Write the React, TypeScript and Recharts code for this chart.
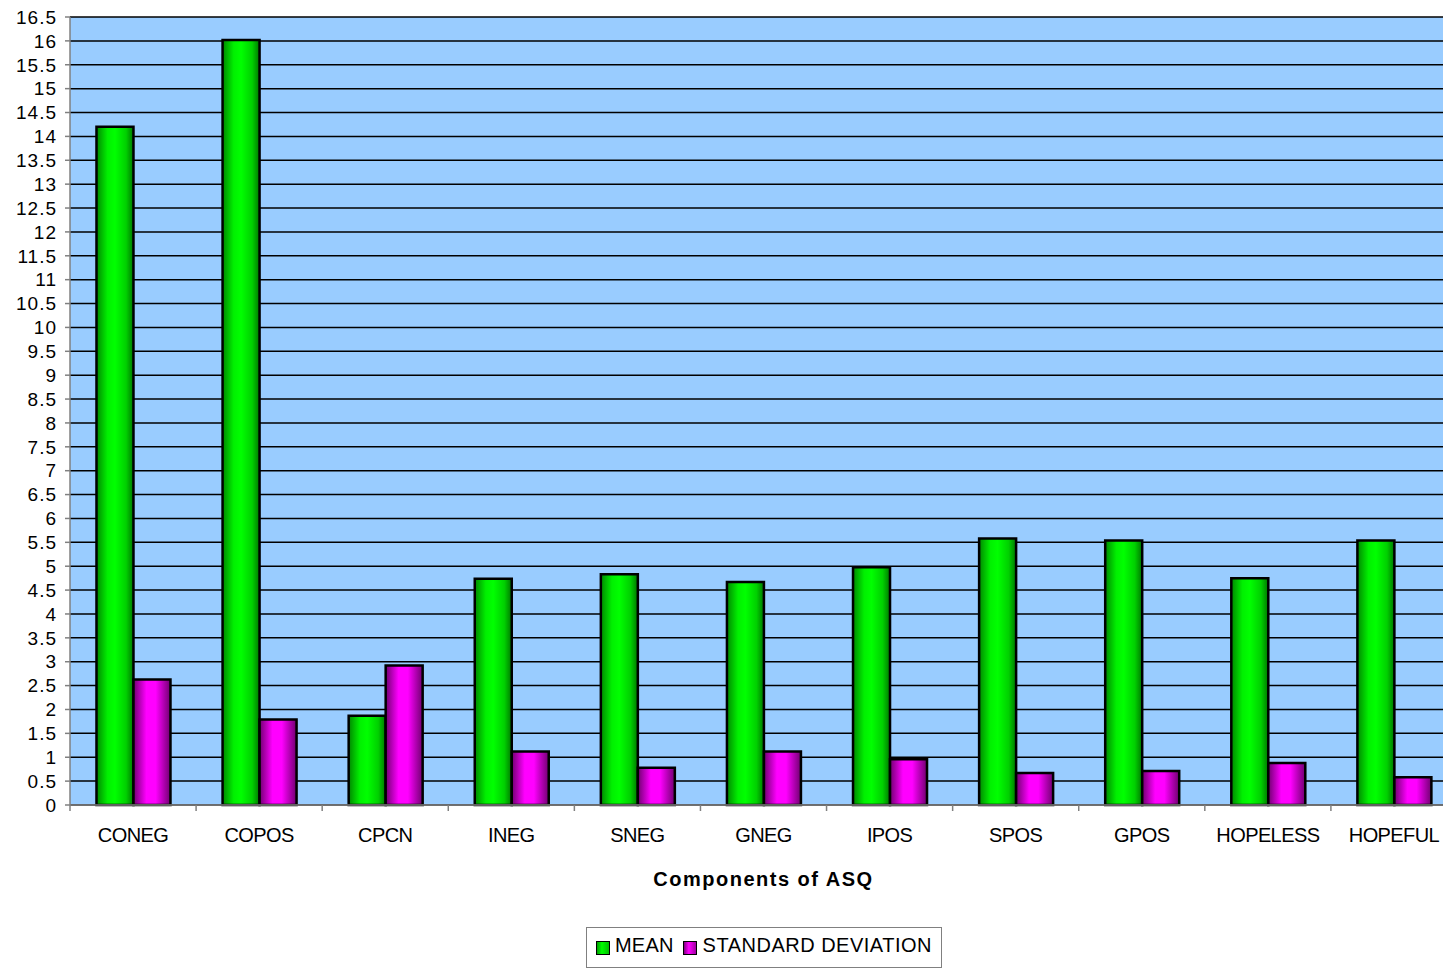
import React from "react";
import { BarChart, Bar, XAxis, YAxis, CartesianGrid, Legend, Label } from "recharts";

const categories = ["CONEG", "COPOS", "CPCN", "INEG", "SNEG", "GNEG", "IPOS", "SPOS", "GPOS", "HOPELESS", "HOPEFUL"];
const meanValues = [14.2, 16.02, 1.87, 4.74, 4.83, 4.67, 4.98, 5.58, 5.54, 4.75, 5.54];
const sdValues = [2.63, 1.79, 2.92, 1.12, 0.78, 1.12, 0.96, 0.67, 0.71, 0.88, 0.58];
const yTicks = Array.from({ length: 34 }, (_, i) => i * 0.5);

const data = categories.map((c, i) => ({ name: c, mean: meanValues[i], sd: sdValues[i] }));

const VW = 1443;
const W = 1457;
const H = 969;
const LEFT = 70;
const BAND = (W - LEFT) / categories.length;
const FONT = "'Liberation Sans', Arial, sans-serif";

const XTick = (props: any) => {
  const { x, y, payload } = props;
  return (
    <g>
      <line x1={x - BAND / 2} y1={y - 8} x2={x - BAND / 2} y2={y - 2} stroke="#808080" strokeWidth={1.5} />
      <text x={x} y={y + 29} textAnchor="middle" fontSize={20} letterSpacing={-0.6} fontFamily={FONT} fill="#000">
        {payload.value}
      </text>
    </g>
  );
};

const LegendContent = () => (
  <div style={{ height: 64, position: "relative", fontFamily: FONT }}>
    <div
      style={{
        position: "absolute",
        left: 586,
        top: 22,
        width: 356,
        height: 41,
        border: "1px solid #808080",
        background: "#fff",
        boxSizing: "border-box",
        display: "flex",
        alignItems: "flex-start",
        paddingTop: 6,
        paddingLeft: 9,
        fontSize: 20,
        letterSpacing: 0.2,
        color: "#000",
        whiteSpace: "nowrap",
      }}
    >
      <span style={{ display: "inline-block", width: 12, height: 12, border: "1px solid #000", background: "linear-gradient(to right,#00a000,#00ff00 40%,#00c000)", marginTop: 7, marginRight: 5 }} />
      <span>MEAN</span>
      <span style={{ display: "inline-block", width: 12, height: 12, border: "1px solid #000", background: "linear-gradient(to right,#800080,#ff00ff 40%,#a000a0)", marginTop: 7, marginLeft: 9, marginRight: 6 }} />
      <span style={{ letterSpacing: 0.5 }}>STANDARD DEVIATION</span>
    </div>
  </div>
);

export default function App() {
  return (
    <div style={{ position: "absolute", left: 0, top: 0, width: VW, height: H, background: "#fff", overflow: "hidden" }}>
      <BarChart
        width={W}
        height={H}
        data={data}
        margin={{ top: 17, right: 0, left: 0, bottom: 0 }}
        barCategoryGap="21%"
        barGap={0}
      >
        <defs>
          <linearGradient id="gGreen" x1="0" y1="0" x2="1" y2="0">
            <stop offset="0" stopColor="#008800" />
            <stop offset="0.3" stopColor="#00f000" />
            <stop offset="0.5" stopColor="#00ff00" />
            <stop offset="0.8" stopColor="#00d000" />
            <stop offset="1" stopColor="#007700" />
          </linearGradient>
          <linearGradient id="gMag" x1="0" y1="0" x2="1" y2="0">
            <stop offset="0" stopColor="#700070" />
            <stop offset="0.35" stopColor="#ff00ff" />
            <stop offset="0.6" stopColor="#ff00ff" />
            <stop offset="1" stopColor="#700070" />
          </linearGradient>
        </defs>
        <CartesianGrid vertical={false} stroke="#000" strokeWidth={1.5} fill="#99CCFF" fillOpacity={1} />
        <XAxis
          dataKey="name"
          height={100}
          stroke="#808080"
          strokeWidth={1.5}
          tickLine={false}
          tick={<XTick />}
          interval={0}
        >
          <Label value="Components of ASQ" position="insideBottom" offset={19} fontSize={20} fontWeight="bold" fontFamily={FONT} fill="#000" style={{ letterSpacing: 1.5 }} />
        </XAxis>
        <YAxis
          width={LEFT}
          domain={[0, 16.5]}
          ticks={yTicks}
          interval={0}
          stroke="#808080"
          strokeWidth={1.5}
          tickSize={5}
          tickMargin={8}
          tick={{ fontSize: 19, fill: "#000", fontFamily: FONT, letterSpacing: 1 }}
          allowDecimals
        />
        <Legend verticalAlign="bottom" content={<LegendContent />} />
        <Bar dataKey="mean" name="MEAN" fill="url(#gGreen)" stroke="#000" strokeWidth={2.5} isAnimationActive={false} />
        <Bar dataKey="sd" name="STANDARD DEVIATION" fill="url(#gMag)" stroke="#000" strokeWidth={2.5} isAnimationActive={false} />
      </BarChart>
    </div>
  );
}
